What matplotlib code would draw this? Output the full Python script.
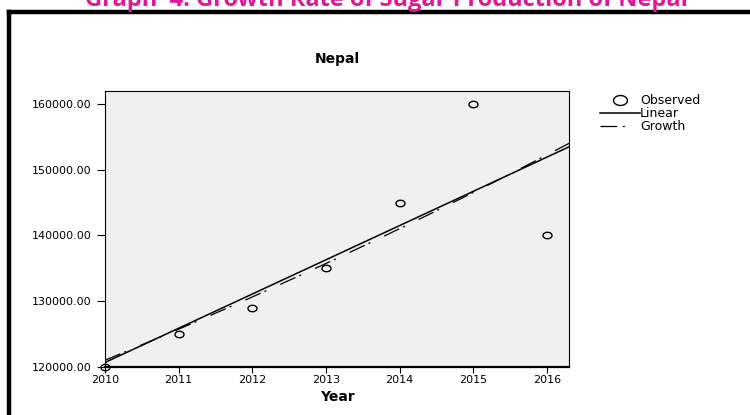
import numpy as np
import matplotlib.pyplot as plt
from matplotlib.lines import Line2D
from matplotlib.path import Path

plt.rcParams['font.family'] = ['DejaVu Sans']
plt.rcParams['lines.scale_dashes'] = False

years = [2010, 2011, 2012, 2013, 2014, 2015, 2016]
production = [120000, 125000, 129000, 135000, 145000, 160000, 140000]
yticks = [120000, 130000, 140000, 150000, 160000]

x = np.array(years, dtype=float)
y = np.array(production, dtype=float)

# curve estimation: linear and growth (log-linear) models
lin = np.polyfit(x, y, 1)
gro = np.polyfit(x, np.log(y), 1)
xx = np.linspace(2010, 2016.3, 200)
y_lin = np.polyval(lin, xx)
y_gro = np.exp(np.polyval(gro, xx))

# slightly wide open circle
t = np.linspace(0, 2 * np.pi, 60)
ellipse = Path(np.column_stack([1.4 * np.cos(t), np.sin(t)]), closed=True)

growth_ls = (0, (12, 3, 1.5, 11))

fig = plt.figure(figsize=(7.5, 4.15), dpi=100)
ax = fig.add_axes([0.14, 0.1164, 0.6187, 0.6643])
ax.set_facecolor('#f0f0f0')

ax.plot(xx, y_lin, color='black', lw=1.1)
ax.plot(xx, y_gro, color='black', lw=0.9, linestyle=growth_ls)
ax.plot(x, y, linestyle='none', marker=ellipse, markersize=6.5,
        markerfacecolor='none', markeredgecolor='black', markeredgewidth=1.0,
        clip_on=False)

ax.set_xlim(2010, 2016.3)
ax.set_ylim(120000, 162000)
ax.set_xticks(years)
ax.set_xticklabels([str(v) for v in years])
ax.set_yticks(yticks)
ax.set_yticklabels(['%.2f' % v for v in yticks])
ax.tick_params(axis='both', labelsize=8, width=0.8, direction='out')
ax.tick_params(axis='x', pad=1.5, length=4.5)
ax.tick_params(axis='y', pad=3.5, length=6)

for side in ['top', 'right', 'left']:
    ax.spines[side].set_linewidth(0.8)
ax.spines['bottom'].set_linewidth(1.6)

ax.set_xlabel('Year', fontsize=10, fontweight='bold', labelpad=3.5)
ax.set_title('Nepal', fontsize=10, fontweight='bold', pad=20.5)

handles = [
    Line2D([], [], linestyle='none', marker=ellipse, markersize=10,
           markerfacecolor='none', markeredgecolor='black', markeredgewidth=1.0),
    Line2D([], [], color='black', lw=1.1),
    Line2D([], [], color='black', lw=0.9, linestyle=(0, (12, 4, 1.5, 14))),
]
fig.legend(handles, ['Observed', 'Linear', 'Growth'], loc='upper left',
           bbox_to_anchor=(600 / 750, 1 - 94 / 415), frameon=False,
           fontsize=9, handlelength=3.2, handletextpad=0.0,
           borderpad=0, borderaxespad=0, labelspacing=0.0)

# page frame and heading
fig.add_artist(Line2D([9 / 750, 9 / 750], [0, 1 - 12 / 415], color='black',
                      lw=3.2, transform=fig.transFigure, solid_capstyle='projecting'))
fig.add_artist(Line2D([9 / 750, 1], [1 - 12 / 415, 1 - 12 / 415], color='black',
                      lw=3.2, transform=fig.transFigure, solid_capstyle='projecting'))
fig.text(386 / 750, 1 - 6 / 415, 'Graph  4: Growth Rate of Sugar Production of Nepal',
         ha='center', va='baseline', fontsize=17, fontweight='bold',
         color='#e0179b', family=['Open Sans', 'DejaVu Sans'])

fig.savefig('out.png', dpi=100)
